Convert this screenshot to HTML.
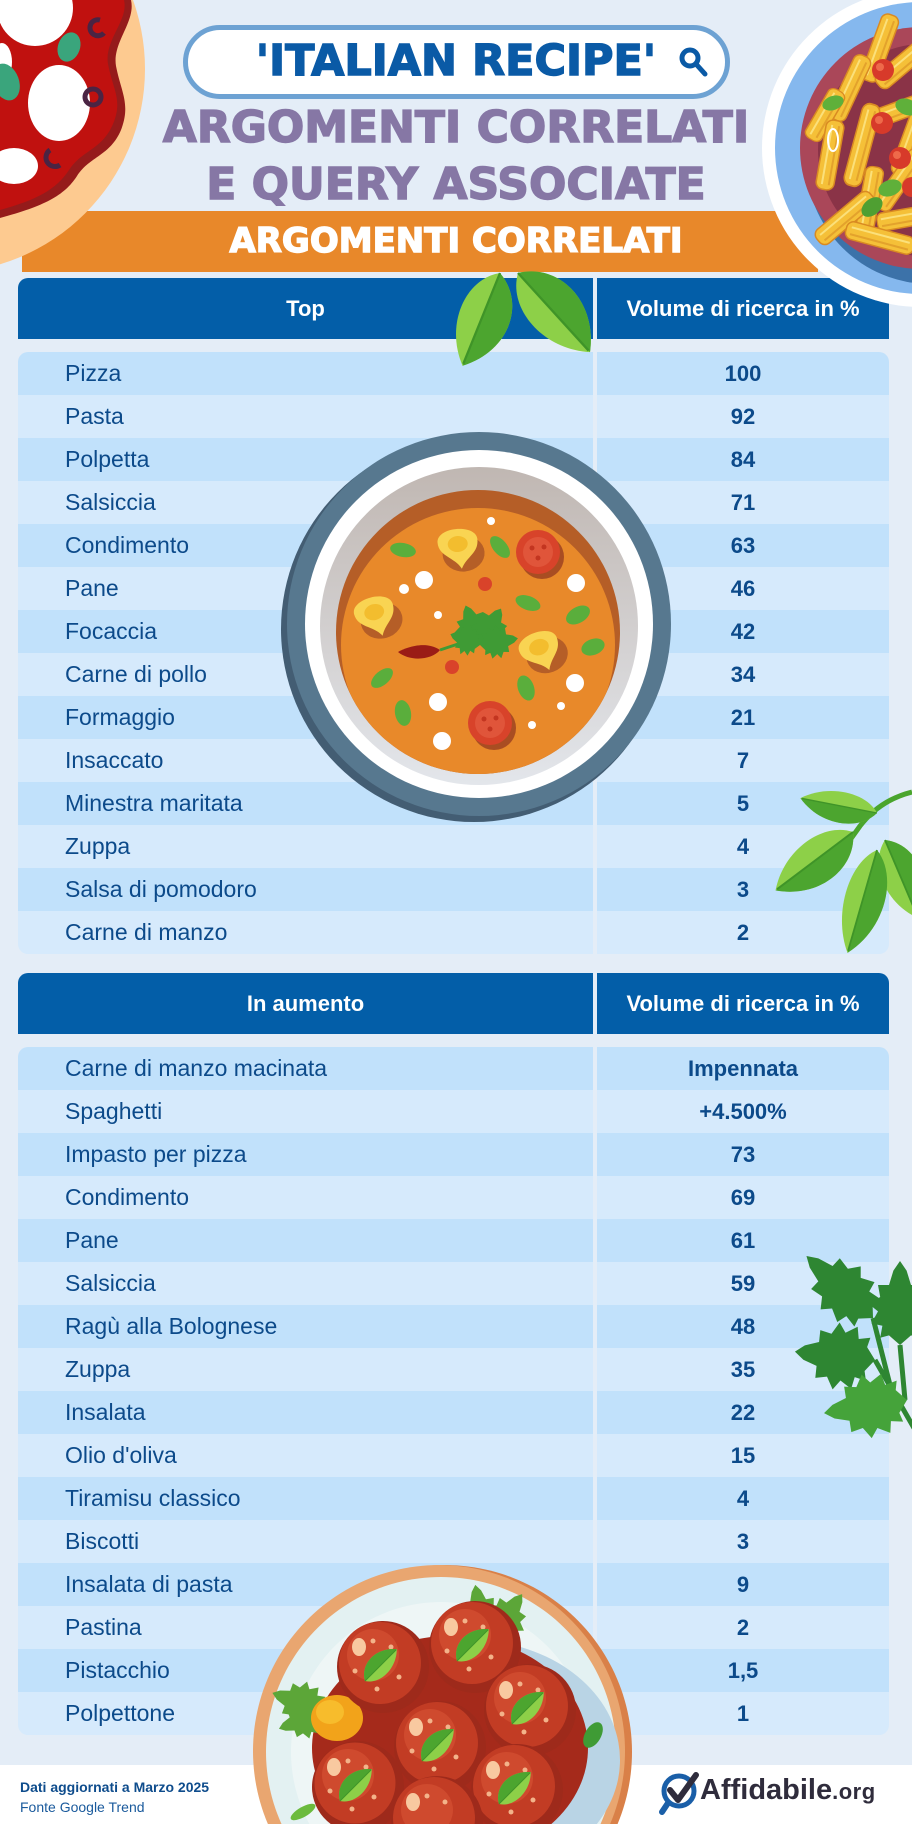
<!DOCTYPE html>
<html><head><meta charset="utf-8">
<style>
*{margin:0;padding:0}
html,body{width:912px;height:1824px;overflow:hidden}
body{position:relative;background:#e4edf7;font-family:"Liberation Sans",sans-serif}
.abs{position:absolute}
.pill{left:183px;top:25px;width:547px;height:74px;box-sizing:border-box;border:5px solid #6da2d3;border-radius:37px;background:#fff}
.disp{position:absolute;left:0;width:912px;text-align:center;font-family:"DejaVu Sans","Liberation Sans",sans-serif;font-weight:bold;line-height:1;white-space:nowrap;-webkit-text-stroke:1.4px currentColor}
.banner{left:22px;top:211px;width:796px;height:61px;background:#e8882a}
.tb{position:absolute;left:18px;width:871px}
.hd{display:flex;height:61px}
.hd div{background:#035ea8;color:#fff;font:bold 22px "Liberation Sans",sans-serif;display:flex;align-items:center;justify-content:center}
.l{width:575px;flex:none}
.r{width:292px;margin-left:4px;flex:none}
.hd .l{border-radius:10px 0 0 0}
.hd .r{border-radius:0 10px 0 0}
.rw{display:flex;height:43px;color:#0c4a8a}
.rw .l{padding-left:47px;box-sizing:border-box;font:23px "Liberation Sans",sans-serif;line-height:43px;white-space:nowrap}
.rw .r{text-align:center;font:bold 22px "Liberation Sans",sans-serif;line-height:43px}
.rw:nth-child(odd) div{background:#c1e1fb}
.rw:nth-child(even) div{background:#d6eafc}
.rw:first-child .l{border-radius:10px 0 0 0}
.rw:first-child .r{border-radius:0 10px 0 0}
.rw:last-child .l{border-radius:0 0 0 10px}
.rw:last-child .r{border-radius:0 0 10px 0}
.foot{left:0;top:1765px;width:912px;height:59px;background:#fff}
svg{overflow:hidden}
</style></head><body>

<div class="abs pill"></div>
<div class="disp" style="top:39.6px;font-size:43px;color:#0a5aa6">'ITALIAN RECIPE'</div>
<svg class="abs" style="left:0;top:0" width="912" height="110"><circle cx="690" cy="58" r="8" fill="none" stroke="#0a5aa6" stroke-width="5"/><line x1="696" y1="64" x2="705" y2="74" stroke="#0a5aa6" stroke-width="5" stroke-linecap="round"/></svg>
<div class="disp" style="top:106px;font-size:44px;color:#8677a5">ARGOMENTI CORRELATI</div>
<div class="disp" style="top:163px;font-size:44px;color:#8677a5">E QUERY ASSOCIATE</div>
<div class="abs banner"></div>
<div class="disp" style="top:224px;font-size:34px;color:#fff">ARGOMENTI CORRELATI</div>

<div class="tb" style="top:278px"><div class="hd"><div class="l">Top</div><div class="r">Volume di ricerca in %</div></div></div>
<div class="tb" style="top:352px">
<div class="rw"><div class="l">Pizza</div><div class="r">100</div></div>
<div class="rw"><div class="l">Pasta</div><div class="r">92</div></div>
<div class="rw"><div class="l">Polpetta</div><div class="r">84</div></div>
<div class="rw"><div class="l">Salsiccia</div><div class="r">71</div></div>
<div class="rw"><div class="l">Condimento</div><div class="r">63</div></div>
<div class="rw"><div class="l">Pane</div><div class="r">46</div></div>
<div class="rw"><div class="l">Focaccia</div><div class="r">42</div></div>
<div class="rw"><div class="l">Carne di pollo</div><div class="r">34</div></div>
<div class="rw"><div class="l">Formaggio</div><div class="r">21</div></div>
<div class="rw"><div class="l">Insaccato</div><div class="r">7</div></div>
<div class="rw"><div class="l">Minestra maritata</div><div class="r">5</div></div>
<div class="rw"><div class="l">Zuppa</div><div class="r">4</div></div>
<div class="rw"><div class="l">Salsa di pomodoro</div><div class="r">3</div></div>
<div class="rw"><div class="l">Carne di manzo</div><div class="r">2</div></div>
</div>

<div class="tb" style="top:973px"><div class="hd"><div class="l">In aumento</div><div class="r">Volume di ricerca in %</div></div></div>
<div class="tb" style="top:1047px">
<div class="rw"><div class="l">Carne di manzo macinata</div><div class="r">Impennata</div></div>
<div class="rw"><div class="l">Spaghetti</div><div class="r">+4.500%</div></div>
<div class="rw"><div class="l">Impasto per pizza</div><div class="r">73</div></div>
<div class="rw"><div class="l">Condimento</div><div class="r">69</div></div>
<div class="rw"><div class="l">Pane</div><div class="r">61</div></div>
<div class="rw"><div class="l">Salsiccia</div><div class="r">59</div></div>
<div class="rw"><div class="l">Ragù alla Bolognese</div><div class="r">48</div></div>
<div class="rw"><div class="l">Zuppa</div><div class="r">35</div></div>
<div class="rw"><div class="l">Insalata</div><div class="r">22</div></div>
<div class="rw"><div class="l">Olio d'oliva</div><div class="r">15</div></div>
<div class="rw"><div class="l">Tiramisu classico</div><div class="r">4</div></div>
<div class="rw"><div class="l">Biscotti</div><div class="r">3</div></div>
<div class="rw"><div class="l">Insalata di pasta</div><div class="r">9</div></div>
<div class="rw"><div class="l">Pastina</div><div class="r">2</div></div>
<div class="rw"><div class="l">Pistacchio</div><div class="r">1,5</div></div>
<div class="rw"><div class="l">Polpettone</div><div class="r">1</div></div>
</div>

<div class="abs foot"></div>
<div class="abs" style="left:20px;top:1780px;font:bold 14px 'Liberation Sans',sans-serif;line-height:1;color:#0e4c8c;white-space:nowrap">Dati aggiornati a Marzo 2025</div>
<div class="abs" style="left:20px;top:1800px;font:14px 'Liberation Sans',sans-serif;line-height:1;color:#1a5a9c;white-space:nowrap">Fonte Google Trend</div>
<div class="abs" style="left:700px;top:1775.5px;font:bold 29px 'Liberation Sans',sans-serif;line-height:1;color:#2f2c3c;white-space:nowrap">Affidabile<span style="font-size:22px;letter-spacing:0.5px">.org</span></div>

<svg class="abs" style="left:0;top:0;pointer-events:none" width="912" height="1824" viewBox="0 0 912 1824">
<defs>
<path id="bl" d="M0,0 C18,-30 68,-34 100,0 C68,28 18,26 0,0 Z"/>
<path id="blh" d="M0,0 C18,-30 68,-34 100,0 Z"/>
<g id="basil"><use href="#bl" fill="#8dd048"/><use href="#blh" fill="#4ca52f"/><path d="M0,0 L98,0" stroke="#3f9428" stroke-width="2" fill="none"/></g>
<polygon id="pl" points="0,0 8,-10 6,-18 16,-16 18,-26 28,-20 34,-28 40,-18 50,-20 50,-10 62,-6 70,0 62,6 50,10 50,20 40,18 34,28 28,20 18,26 16,16 6,18 8,10"/>
<linearGradient id="bowlg" x1="0" y1="0" x2="0" y2="1"><stop offset="0" stop-color="#c0b7b2"/><stop offset="1" stop-color="#e3e6eb"/></linearGradient>
<clipPath id="sc"><circle cx="478" cy="632" r="142"/></clipPath>
<g id="tort"><ellipse cx="5" cy="7" rx="21" ry="18" fill="#b55e27"/><path d="M-20,-6 C-20,-22 20,-22 20,-6 C20,8 8,10 2,22 C-4,10 -20,8 -20,-6Z" fill="#f9d452"/><ellipse cx="0" cy="-3" rx="10" ry="8" fill="#f3bd2e"/></g>
<g id="tom"><circle cx="4" cy="5" r="22" fill="#a94d22"/><circle r="22" fill="#d8432a"/><circle r="15" fill="#e0553a"/><circle cx="-6" cy="-4" r="2.5" fill="#c33520"/><circle cx="6" cy="-5" r="2.5" fill="#c33520"/><circle cx="0" cy="6" r="2.5" fill="#c33520"/></g>
<g id="mb"><circle r="46" fill="#9e2a1b"/><circle cx="-3" cy="-4" r="41" fill="#c23c24"/><circle cx="-10" cy="-12" r="26" fill="#cf4a2e"/><ellipse cx="-24" cy="-20" rx="7" ry="9" fill="#f8c9a0"/><circle cx="-10" cy="-26" r="2.5" fill="#f3b38a"/><circle cx="8" cy="-20" r="2.5" fill="#f3b38a"/><circle cx="-28" cy="4" r="2.5" fill="#f3b38a"/><circle cx="16" cy="10" r="2.5" fill="#f3b38a"/><circle cx="-6" cy="22" r="2.5" fill="#f3b38a"/><use href="#basil" transform="translate(-18,14) rotate(-45) scale(0.45,0.5)"/></g>
<g id="pen"><rect x="-35" y="-9" width="70" height="18" rx="7" fill="#f5c038" stroke="#d98a22" stroke-width="1.5"/><line x1="-30" y1="-3" x2="30" y2="-3" stroke="#fbe07a" stroke-width="2"/><line x1="-30" y1="4" x2="30" y2="4" stroke="#e3a22c" stroke-width="2"/></g>
</defs>

<!-- pizza -->
<circle cx="-59" cy="69" r="204" fill="#fdca90"/>
<path fill="#951b1b" d="M0,0 L131,0 C136,22 112,42 116,66 C121,92 131,104 121,130 C110,156 90,156 77,176 C64,196 44,206 0,218 Z"/>
<path fill="#c0110f" d="M0,0 L124,0 C129,20 104,40 108,64 C113,90 123,100 113,124 C102,150 82,150 69,170 C56,190 36,200 0,210 Z"/>
<ellipse cx="35" cy="8" rx="38" ry="38" fill="#fff"/>
<ellipse cx="59" cy="103" rx="31" ry="38" fill="#fff"/>
<ellipse cx="14" cy="166" rx="24" ry="18" fill="#fff"/>
<ellipse cx="2" cy="62" rx="10" ry="19" fill="#fff"/>
<ellipse cx="69" cy="47" rx="11" ry="15" transform="rotate(20 69 47)" fill="#3aa57c"/>
<ellipse cx="6" cy="82" rx="13" ry="19" transform="rotate(-20 6 82)" fill="#3aa57c"/>
<circle cx="93" cy="97" r="8" fill="none" stroke="#4a2443" stroke-width="5"/>
<path d="M100,20 A8,8 0 1,0 104,33" stroke="#4a2443" stroke-width="5" fill="none"/>
<path d="M50,150 A8,8 0 0,0 60,165" stroke="#4a2443" stroke-width="5" fill="none"/>

<!-- pasta plate -->
<circle cx="921" cy="148" r="159" fill="#fff"/>
<circle cx="921" cy="148" r="146" fill="#85b8ee"/>
<circle cx="930" cy="160" r="124" fill="#3c72a9"/>
<circle cx="921" cy="148" r="121" fill="#aa4759"/>
<circle cx="924" cy="150" r="106" fill="#8a3347"/>
<use href="#pen" transform="translate(880,48) rotate(-70)"/>
<use href="#pen" transform="translate(905,62) rotate(-40)"/>
<use href="#pen" transform="translate(850,88) rotate(-65)"/>
<use href="#pen" transform="translate(825,115) rotate(-60) scale(0.8,1)"/>
<use href="#pen" transform="translate(895,112) rotate(-20)"/>
<use href="#pen" transform="translate(830,155) rotate(-80)"/>
<use href="#pen" transform="translate(862,145) rotate(-75) scale(1.2,1)"/>
<use href="#pen" transform="translate(910,142) rotate(-70)"/>
<use href="#pen" transform="translate(900,180) rotate(-55)"/>
<use href="#pen" transform="translate(870,198) rotate(-80) scale(0.9,1)"/>
<use href="#pen" transform="translate(845,218) rotate(-40)"/>
<use href="#pen" transform="translate(905,218) rotate(-10) scale(0.8,1)"/>
<use href="#pen" transform="translate(880,238) rotate(15)"/>
<ellipse cx="833" cy="140" rx="5" ry="11" fill="none" stroke="#fff" stroke-width="2"/>
<circle cx="883" cy="70" r="11" fill="#d73a2a"/><circle cx="880" cy="67" r="4" fill="#ee6a4a"/>
<circle cx="882" cy="123" r="11" fill="#d73a2a"/><circle cx="879" cy="120" r="4" fill="#ee6a4a"/>
<circle cx="900" cy="158" r="11" fill="#d73a2a"/><circle cx="897" cy="155" r="4" fill="#ee6a4a"/>
<circle cx="912" cy="187" r="10" fill="#d73a2a"/>
<ellipse cx="890" cy="188" rx="12" ry="8" transform="rotate(-20 890 188)" fill="#5fb03a"/>
<ellipse cx="872" cy="207" rx="12" ry="8" transform="rotate(-40 872 207)" fill="#4f9f32"/>
<ellipse cx="833" cy="103" rx="11" ry="7" transform="rotate(-20 833 103)" fill="#5fb03a"/>
<ellipse cx="907" cy="107" rx="12" ry="8" transform="rotate(20 907 107)" fill="#5fb03a"/>

<!-- basil on header -->
<use href="#basil" transform="translate(500,273) rotate(112) scale(1,1.15)"/>
<use href="#basil" transform="translate(518,273) rotate(47.7) scale(1.07,1.2)"/>

<!-- soup bowl -->
<circle cx="474" cy="629" r="193" fill="#435d73"/>
<circle cx="479" cy="624" r="192" fill="#57788f"/>
<circle cx="479" cy="624" r="174" fill="#fff"/>
<circle cx="479" cy="626" r="159" fill="url(#bowlg)"/>
<circle cx="478" cy="632" r="142" fill="#b55e27"/>
<circle cx="478" cy="645" r="137" fill="#e8892a" clip-path="url(#sc)"/>
<use href="#tort" transform="translate(458,547) rotate(-5)"/>
<use href="#tort" transform="translate(375,615) rotate(-15)"/>
<use href="#tort" transform="translate(540,650) rotate(-20)"/>
<use href="#tom" transform="translate(538,552)"/>
<use href="#tom" transform="translate(490,723)"/>
<g fill="#fff">
<circle cx="491" cy="521" r="4"/><circle cx="424" cy="580" r="9"/><circle cx="404" cy="589" r="5"/><circle cx="438" cy="615" r="4"/><circle cx="576" cy="583" r="9"/><circle cx="575" cy="683" r="9"/><circle cx="561" cy="706" r="4"/><circle cx="532" cy="725" r="4"/><circle cx="438" cy="702" r="9"/><circle cx="442" cy="741" r="9"/>
</g>
<circle cx="485" cy="584" r="7" fill="#d9432a"/><circle cx="452" cy="667" r="7" fill="#d9432a"/>
<g fill="#5aae3c">
<ellipse cx="403" cy="550" rx="13" ry="7" transform="rotate(10 403 550)"/>
<ellipse cx="500" cy="547" rx="13" ry="7" transform="rotate(50 500 547)"/>
<ellipse cx="528" cy="603" rx="13" ry="7" transform="rotate(20 528 603)"/>
<ellipse cx="578" cy="615" rx="13" ry="8" transform="rotate(-30 578 615)"/>
<ellipse cx="593" cy="647" rx="12" ry="8" transform="rotate(-20 593 647)"/>
<ellipse cx="382" cy="678" rx="13" ry="7" transform="rotate(-40 382 678)"/>
<ellipse cx="403" cy="713" rx="13" ry="8" transform="rotate(80 403 713)"/>
<ellipse cx="526" cy="688" rx="13" ry="8" transform="rotate(70 526 688)"/>
</g>
<path d="M440,650 C425,640 405,648 398,652 C410,662 432,660 440,650Z" fill="#9a1c16"/>
<path d="M440,650 L470,640" stroke="#3f9b35" stroke-width="3"/>
<g fill="#3f9b35">
<use href="#pl" transform="translate(480,645) rotate(-110) scale(0.6,0.7)"/>
<use href="#pl" transform="translate(480,645) rotate(-60) scale(0.6,0.7)"/>
<use href="#pl" transform="translate(480,645) rotate(-10) scale(0.55,0.6)"/>
<use href="#pl" transform="translate(480,645) rotate(-160) scale(0.45,0.55)"/>
</g>

<!-- basil branch right -->
<path d="M912,792 Q880,800 860,826 L830,868" stroke="#4aa52d" stroke-width="5" fill="none"/>
<use href="#basil" transform="translate(877,813) rotate(191) scale(0.78,0.7)"/>
<use href="#basil" transform="translate(885,840) rotate(67) scale(0.85,0.9)"/>
<use href="#basil" transform="translate(877,850) rotate(106) scale(1.07,0.9)"/>
<use href="#basil" transform="translate(853,832) rotate(143) scale(0.97,1)"/>

<!-- parsley right -->
<path d="M914,1428 L875,1360 M890,1385 L873,1318 M905,1400 L900,1345" stroke="#2e8632" stroke-width="5" fill="none"/>
<g fill="#2e8632">
<use href="#pl" transform="translate(873,1318) rotate(-137) scale(1.3,1.05)"/>
<use href="#pl" transform="translate(875,1360) rotate(186) scale(1.15,1.2)"/>
<use href="#pl" transform="translate(900,1345) rotate(-90) scale(1.2,1.1)"/>
</g>
<use href="#pl" fill="#45a33a" transform="translate(907,1400) rotate(171) scale(1.2,1.15)"/>

<!-- meatball plate (truncated at bottom edge) -->
<path d="M272.4,1824 A187,187 0 1 1 617.6,1824 Z" fill="#d98048"/>
<path d="M267.9,1824 A186,186 0 1 1 610.1,1824 Z" fill="#e9a670"/>
<path d="M281.5,1824 A175,175 0 1 1 600.5,1824 Z" fill="#e3f1f2"/>
<path d="M309.4,1824 A150,150 0 1 1 572.6,1824 Z" fill="#eef6f6"/>
<path d="M343.1,1824 A150,120 0 1 1 596.9,1824 Z" fill="#b9d4e5"/>
<path d="M348.6,1824 A138,112 0 1 1 551.4,1824 Z" fill="#a52a1b"/>
<g fill="#5ca638">
<use href="#pl" transform="translate(485,1640) rotate(-100) scale(0.8,0.8)"/>
<use href="#pl" transform="translate(490,1640) rotate(-55) scale(0.8,0.8)"/>
<use href="#pl" transform="translate(325,1712) rotate(200) scale(0.8,0.8)"/>
<use href="#pl" transform="translate(325,1712) rotate(160) scale(0.7,0.7)"/>
</g>
<ellipse cx="337" cy="1718" rx="26" ry="23" fill="#f2a31a"/>
<ellipse cx="330" cy="1712" rx="14" ry="12" fill="#f7bc2c"/>
<use href="#mb" transform="translate(383,1667)"/>
<use href="#mb" transform="translate(475,1647)"/>
<use href="#mb" transform="translate(530,1710)"/>
<use href="#mb" transform="translate(440,1747)"/>
<!-- mb5 (358,1787) -->
<path d="M330.7,1824 A46,46 0 1 1 385.3,1824 Z" fill="#9e2a1b"/>
<circle cx="355" cy="1783" r="40.5" fill="#c23c24"/>
<circle cx="348" cy="1775" r="26" fill="#cf4a2e"/>
<ellipse cx="334" cy="1767" rx="7" ry="9" fill="#f8c9a0"/>
<circle cx="348" cy="1761" r="2.5" fill="#f3b38a"/><circle cx="366" cy="1767" r="2.5" fill="#f3b38a"/><circle cx="330" cy="1791" r="2.5" fill="#f3b38a"/><circle cx="374" cy="1797" r="2.5" fill="#f3b38a"/><circle cx="352" cy="1809" r="2.5" fill="#f3b38a"/>
<use href="#basil" transform="translate(340,1801) rotate(-45) scale(0.45,0.5)"/>
<!-- mb6 (517,1790) -->
<path d="M486,1824 A46,46 0 1 1 548,1824 Z" fill="#9e2a1b"/>
<path d="M498.6,1824 A41,41 0 1 1 529.4,1824 Z" fill="#c23c24"/>
<circle cx="507" cy="1778" r="26" fill="#cf4a2e"/>
<ellipse cx="493" cy="1770" rx="7" ry="9" fill="#f8c9a0"/>
<circle cx="507" cy="1764" r="2.5" fill="#f3b38a"/><circle cx="525" cy="1770" r="2.5" fill="#f3b38a"/><circle cx="489" cy="1794" r="2.5" fill="#f3b38a"/><circle cx="533" cy="1800" r="2.5" fill="#f3b38a"/><circle cx="511" cy="1812" r="2.5" fill="#f3b38a"/>
<use href="#basil" transform="translate(499,1804) rotate(-45) scale(0.45,0.5)"/>
<!-- mb7 (437,1822) -->
<path d="M391.04,1824 A46,46 0 1 1 482.96,1824 Z" fill="#9e2a1b"/>
<path d="M393.44,1824 A41,41 0 1 1 474.56,1824 Z" fill="#c23c24"/>
<path d="M405.1,1824 A26,26 0 1 1 448.9,1824 Z" fill="#cf4a2e"/>
<ellipse cx="413" cy="1802" rx="7" ry="9" fill="#f8c9a0"/>
<circle cx="427" cy="1796" r="2.5" fill="#f3b38a"/><circle cx="445" cy="1802" r="2.5" fill="#f3b38a"/>
<ellipse cx="593" cy="1735" rx="8" ry="14" transform="rotate(30 593 1735)" fill="#3f9b35"/>
<ellipse cx="303" cy="1812" rx="14" ry="5" transform="rotate(-30 303 1812)" fill="#6cbb3e"/>

<!-- logo icon -->
<circle cx="679" cy="1791" r="15" fill="none" stroke="#1a5fa8" stroke-width="5"/>
<line x1="668" y1="1803" x2="662" y2="1812" stroke="#1a5fa8" stroke-width="6" stroke-linecap="round"/>
<path d="M670,1790 L678,1800 L696,1775" stroke="#2f2c3c" stroke-width="6" fill="none" stroke-linecap="round" stroke-linejoin="round"/>
</svg>
</body></html>
